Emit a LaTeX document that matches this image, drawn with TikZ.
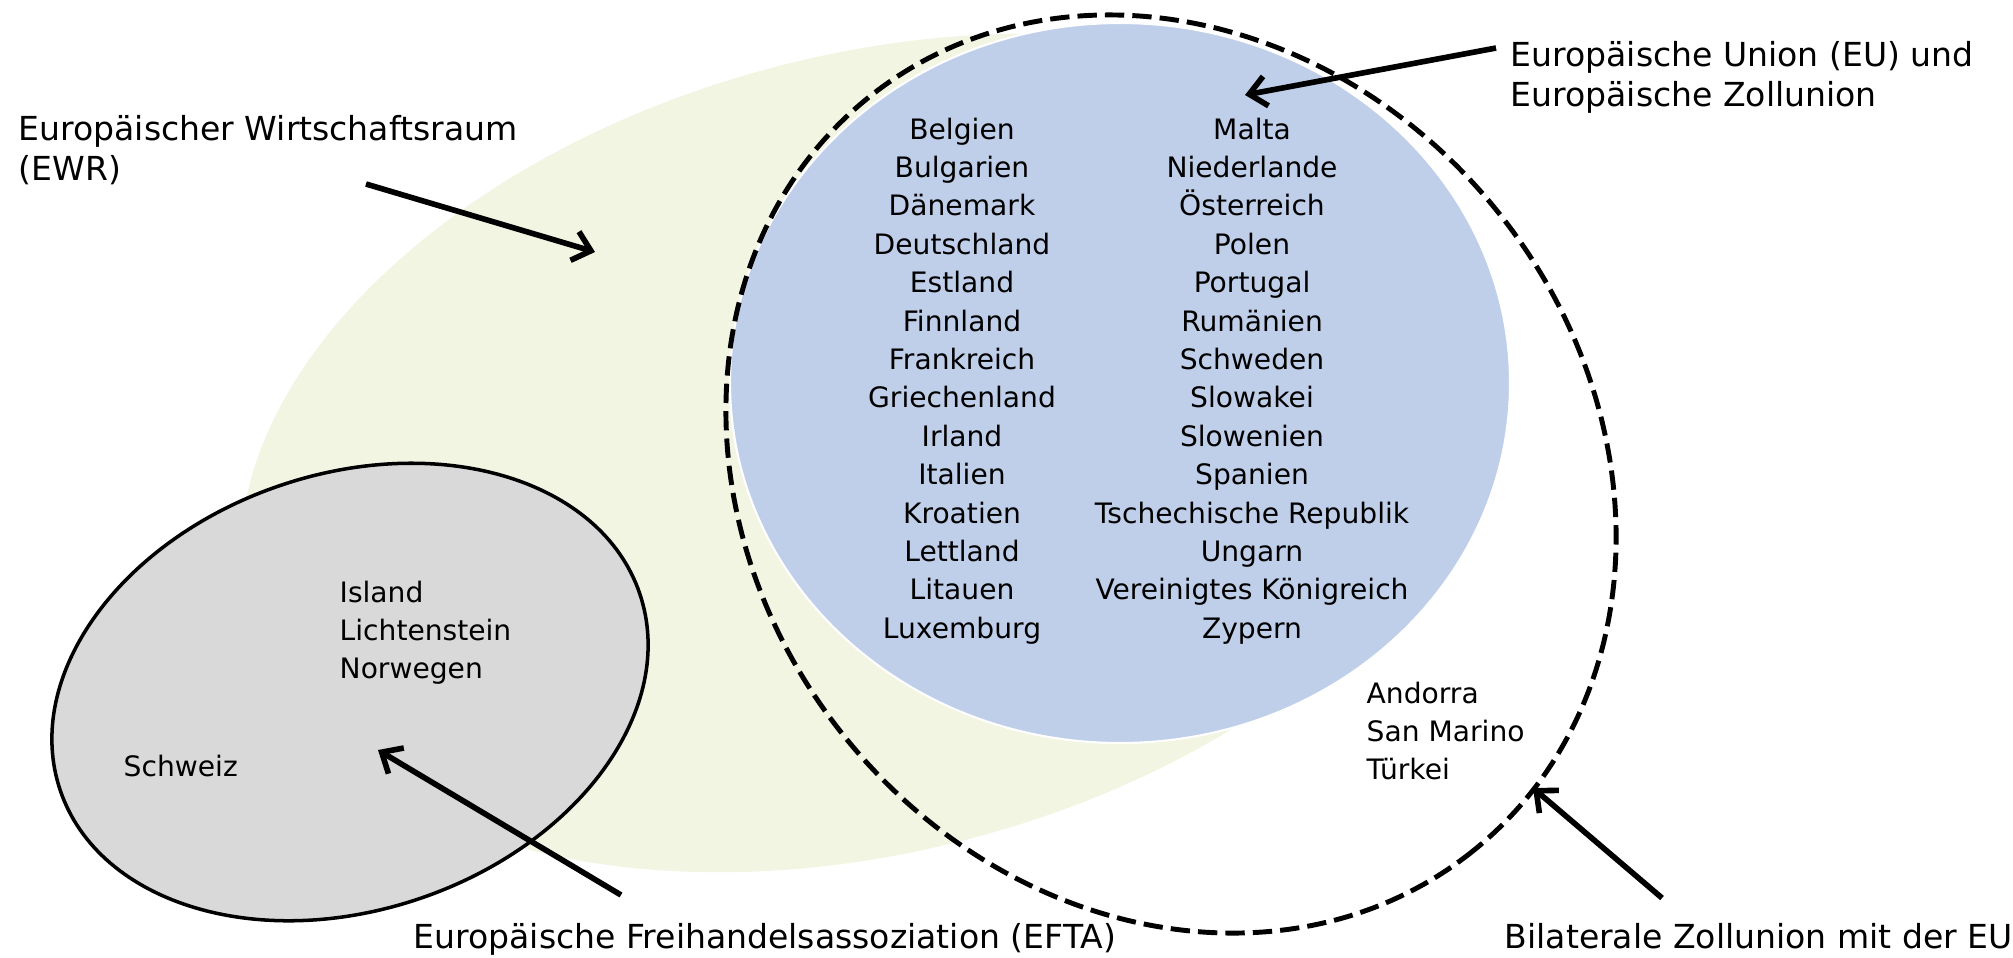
\documentclass[tikz,border=0pt]{standalone}
\usepackage{fontspec}
\setmainfont{DejaVu Sans}
\usetikzlibrary{arrows.meta}

\definecolor{ewrgreen}{RGB}{241,245,226}
\definecolor{eublue}{RGB}{191,207,234}
\definecolor{eftagray}{RGB}{217,217,217}

\begin{document}
\begin{tikzpicture}
    [%%%%%%%%%%%%%%%%%%%%%%%%%%%%%%
        x=0.01cm, y=-0.01cm,
        groupname/.style={inner sep=0pt, anchor=base west, align=left, font=\fontsize{9.4}{11.3}\selectfont},
        staat/.style={inner sep=0pt, anchor=base, font=\fontsize{8}{8}\selectfont},
        pointer/.style={-{Straight Barb[length=4.8pt,width=8.5pt]}, line width=1.6pt},
    ]%%%%%%%%%%%%%%%%%%%%%%%%%%%%%%

\useasboundingbox (0,0) rectangle (2013,957);

% the three areas and the dashed customs union
\fill[ewrgreen, rotate around={15:(872,453)}] (872,453) ellipse [x radius=645, y radius=398];
\filldraw[fill=eftagray, draw=black, line width=1pt, rotate around={18.8:(350,692)}]
    (350,692) ellipse [x radius=306, y radius=218];
\filldraw[fill=eublue, draw=white, line width=0.6pt] (1120,383) ellipse [x radius=390, y radius=360];
\draw[line width=1.4pt, dash pattern=on 5.5pt off 2.3pt, rotate around={-51.3:(1171,474)}]
    (1171,474) ellipse [x radius=483, y radius=419];

% EU members
\foreach \staat [count=\i from 0] in {Belgien,Bulgarien,Dänemark,Deutschland,Estland,Finnland,Frankreich,
        Griechenland,Irland,Italien,Kroatien,Lettland,Litauen,Luxemburg}
    \node[staat] (left\i) at (962,139+38.4*\i) {\staat};

\foreach \staat [count=\i from 0] in {Malta,Niederlande,Österreich,Polen,Portugal,Rumänien,Schweden,
        Slowakei,Slowenien,Spanien,Tschechische Republik,Ungarn,Vereinigtes Königreich,Zypern}
    \node[staat] (right\i) at (1252,139+38.4*\i) {\staat};

% EFTA
\foreach \staat [count=\i from 0] in {Island,Lichtenstein,Norwegen}
    \node[staat, anchor=base west] (efta\i) at (339,602+38.4*\i) {\staat};
\node[staat, anchor=base west] (schweiz) at (123,776) {Schweiz};

% bilateral
\foreach \staat [count=\i from 0] in {Andorra,San Marino,Türkei}
    \node[staat, anchor=base west] (bilat\i) at (1366,703+38.2*\i) {\staat};

% captions
\node[groupname] (ewr) at (18,180) {Europäischer Wirtschaftsraum\\(EWR)};
\node[groupname] (eu) at (1510,106) {Europäische Union (EU) und\\Europäische Zollunion};
\node[groupname] (efta) at (413,948) {Europäische Freihandelsassoziation (EFTA)};
\node[groupname] (bilateral) at (1504,948) {Bilaterale Zollunion mit der EU};

\coordinate (ewrfrom) at (366,184);
\coordinate (ewrto) at (595,252);
\coordinate (eufrom) at (1496,48);
\coordinate (euto) at (1245,95);
\coordinate (eftafrom) at (621,895);
\coordinate (eftato) at (378,750);
\coordinate (bilatfrom) at (1662,898);
\coordinate (bilatto) at (1533,788);

\draw[pointer] (ewrfrom) -- (ewrto);
\draw[pointer] (eufrom) -- (euto);
\draw[pointer] (eftafrom) -- (eftato);
\draw[pointer] (bilatfrom) -- (bilatto);
\end{tikzpicture}
\end{document}
